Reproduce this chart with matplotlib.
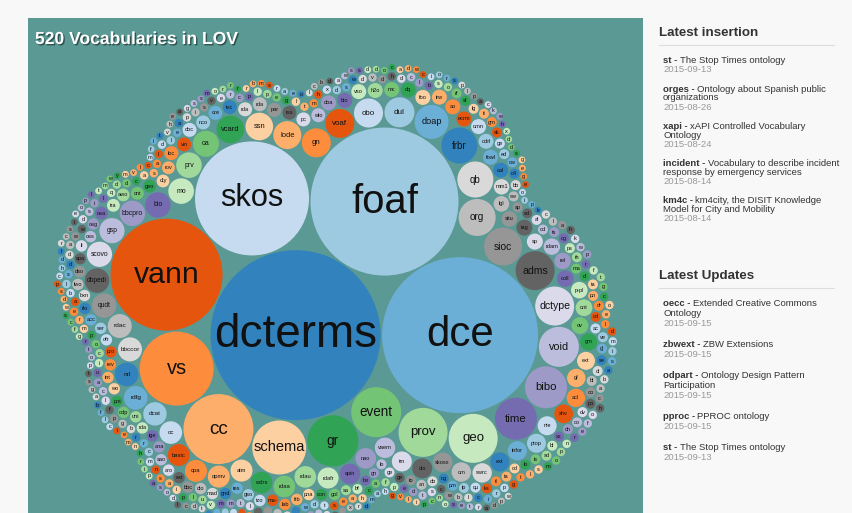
import math
import matplotlib
matplotlib.use("Agg")
import matplotlib.pyplot as plt
from matplotlib.patches import Circle, Rectangle
import matplotlib.patheffects as pe

# ---------------- data ----------------
# largest vocabularies, in descending order, with their bubble radius (px)
top_names = ["dcterms", "dce", "foaf", "skos", "vann", "vs", "cc", "schema", "gr", "event",
             "prov", "geo", "time", "bibo", "void", "dctype", "adms", "sioc", "org", "qb",
             "frbr", "doap", "dul", "obo", "voaf", "gn", "lode", "ssn", "vcard", "oa",
             "prv", "mo", "bio", "bbcpro", "gsp", "scovo", "dbpedi", "qudt", "rdac", "bbccor",
             "nrl", "rdfg", "dcat", "oc", "basic", "cpa", "opmv", "aim", "wdrs", "rdaa",
             "rdau", "rdafr", "spin", "nao", "vaem", "tm", "olo", "skosx", "om", "swrc",
             "ext", "infor", "ptop", "nie", "xhv", "acl", "gf", "ext", "gm", "ov",
             "ont", "p-pl", "coll", "rel", "rdam", "sp", "tag", "situ", "lgl", "mm1"]
top_radius = [85, 78, 74, 57, 56, 37, 35, 27, 25.5, 25,
              24.5, 24.5, 21, 21, 20, 19.5, 19.5, 19, 18.5, 18,
              18, 17, 15, 14.5, 14.5, 14.5, 14, 13.8, 13.8, 13,
              12.8, 12.8, 12.7, 12.7, 12.6, 12.6, 12.3, 12.2, 12, 12,
              11.8, 11.8, 11.7, 11.3, 11, 11, 11, 11, 10.8, 10.8,
              10.8, 10.5, 10.3, 10.3, 10.2, 10, 10, 9.8, 9.7, 9.7,
              9.6, 9.6, 9.5, 9.5, 9.4, 9.2, 9.2, 9, 8.6, 8.4,
              8.4, 8.3, 8.3, 8.2, 8.2, 8, 8, 7.8, 7.8, 7.7]

# the many small ones, grouped by (roughly equal) size, labels as shown
tier_a = "cal fowl odrl omn ecrm ao irw foo dq mc h2o vso bio doa".split()
tier_b = "wlo pc rss par rda rda tvc ore nco doc vin loc".split()
tier_c = "rov dty geo cnt awo tra osa".split()
tier_d = ("osg oss li spa dso lwo bxn rlo acc ser ofr pro rev int wo pnt odp uni rda ige "
          "ana sao aro ext bbc olo mad gnd tes gso tzo ma- lab frb pna con gol").split()
tier_e = ("sa bf be gn lo ge ge to an ob ng pm ip qu ks tl ta cd lo is "
          "sd bl sx ch co dv po oo bl ol se gl ve ac cd dr pn ta di ma "
          "th ps cg ts od al sd sp sw bb c4 cw ed ge sk gm ti lg sf rf").split()
tier_f = list("osblcdhdvdwsdxhmtlgeplpcrevsipaeldlasacddqlisdwwaddslbaermpo"
              "ciuaclfpgbrrcmnsaipluvmmtlfpocdwdtseahcafpedtscwblcirpgtlsmo"
              "pnrefohcabasimdleocgtfrpwkhalc")
tier_g = list("kpioegegsddxhwkcaplpsroicwdacoddsswadbcloearsmbrrrromssgaehv"
              "tlfmclvmywmtlpoeiscrldhcpsdwscfgrtoptsgabflciemnhripasodlcdt"
              "wvnkrmpfailcetsbqoxrdmahgvlipcnosetradpw")
tiers = [tier_a, tier_b, tier_c, tier_d, tier_e, tier_f, tier_g]
tier_radius = [7.5, 7.0, 6.4, 5.7, 5.0, 4.2, 3.4]

palette = ["#3182bd", "#6baed6", "#9ecae1", "#c6dbef", "#e6550d", "#fd8d3c", "#fdae6b", "#fdd0a2",
           "#31a354", "#74c476", "#a1d99b", "#c7e9c0", "#756bb1", "#9e9ac8", "#bcbddc", "#dadaeb",
           "#636363", "#969696", "#bdbdbd", "#d9d9d9"]

insertions = [("st", ["The Stop Times ontology"], "2015-09-13"),
              ("orges", ["Ontology about Spanish public", "organizations"], "2015-08-26"),
              ("xapi", ["xAPI Controlled Vocabulary", "Ontology"], "2015-08-24"),
              ("incident", ["Vocabulary to describe incident", "response by emergency services"], "2015-08-14"),
              ("km4c", ["km4city, the DISIT Knowledge", "Model for City and Mobility"], "2015-08-14")]
updates = [("oecc", ["Extended Creative Commons", "Ontology"], "2015-09-15"),
           ("zbwext", ["ZBW Extensions"], "2015-09-15"),
           ("odpart", ["Ontology Design Pattern", "Participation"], "2015-09-15"),
           ("pproc", ["PPROC ontology"], "2015-09-15"),
           ("st", ["The Stop Times ontology"], "2015-09-13")]

labels = list(top_names)
radius = list(top_radius)
for t, r in zip(tiers, tier_radius):
    labels += t
    radius += [r] * len(t)


# ---------------- d3 v3 style sibling packing ----------------
def pack_siblings(rr):
    n = len(rr)
    x = [0.0] * n
    y = [0.0] * n
    nxt = list(range(n))
    prv = list(range(n))
    box = [math.inf, -math.inf, math.inf, -math.inf]

    def bound(i):
        box[0] = min(box[0], x[i] - rr[i]); box[1] = max(box[1], x[i] + rr[i])
        box[2] = min(box[2], y[i] - rr[i]); box[3] = max(box[3], y[i] + rr[i])

    def place(a, b, c):
        db = rr[a] + rr[c]
        dx = x[b] - x[a]
        dy = y[b] - y[a]
        if db and (dx or dy):
            da = rr[b] + rr[c]
            dc = dx * dx + dy * dy
            da *= da
            db *= db
            xx = 0.5 + (db - da) / (2 * dc)
            yy = math.sqrt(max(0, 2 * da * (db + dc) - (db - dc) ** 2 - da * da)) / (2 * dc)
            x[c] = x[a] + xx * dx + yy * dy
            y[c] = y[a] + xx * dy - yy * dx
        else:
            x[c] = x[a] + db
            y[c] = y[a]

    def insert(a, b):
        c = nxt[a]
        nxt[a] = b; prv[b] = a
        nxt[b] = c; prv[c] = b

    def splice(a, b):
        nxt[a] = b; prv[b] = a

    def hits(a, b):
        dx = x[b] - x[a]; dy = y[b] - y[a]; dr = rr[a] + rr[b]
        return 0.999 * dr * dr > dx * dx + dy * dy

    a = 0
    x[a] = -rr[a]
    bound(a)
    b = 1
    x[b] = rr[b]
    bound(b)
    c = 2
    place(a, b, c)
    bound(c)
    insert(a, c)
    prv[a] = c
    insert(c, b)
    b = nxt[a]
    i = 3
    while i < n:
        c = i
        place(a, b, c)
        isect = False
        s1 = s2 = 1
        j = nxt[b]
        while j != b:
            if hits(j, c):
                isect = True
                break
            j = nxt[j]
            s1 += 1
        if isect:
            k = prv[a]
            while k != prv[j]:
                if hits(k, c):
                    break
                k = prv[k]
                s2 += 1
            if s1 < s2 or (s1 == s2 and rr[b] < rr[a]):
                b = j
                splice(a, b)
            else:
                a = k
                splice(a, b)
        else:
            insert(a, c)
            b = c
            bound(c)
            i += 1
    cx = (box[0] + box[1]) / 2
    cy = (box[2] + box[3]) / 2
    return [v - cx for v in x], [v - cy for v in y]


pad = 0.75
px, py = pack_siblings([r + pad for r in radius])

# ---------------- drawing ----------------
W, H = 852, 513
fig = plt.figure(figsize=(W / 100, H / 100), dpi=100)
fig.patch.set_facecolor("#f8f8f8")
ax = fig.add_axes([0, 0, 1, 1])
ax.set_xlim(0, W)
ax.set_ylim(H, 0)
ax.axis("off")

panel_x, panel_y, panel_w = 28, 18, 615
ax.add_patch(Rectangle((panel_x, panel_y), panel_w, 600, facecolor="#5a9994", edgecolor="none", zorder=0))
# centre of the bubble cloud inside the panel
cx0 = panel_x + panel_w / 2
cy0 = 296

for i, (lab, r) in enumerate(zip(labels, radius)):
    X = cx0 + px[i]
    Y = cy0 + py[i]
    if Y - r > H:
        continue
    ax.add_patch(Circle((X, Y), r, facecolor=palette[i % 20], edgecolor="none", zorder=1))
    fpx = max(0.54 * r, 5.6)
    if Y + fpx * 0.5 > H - 1:
        continue
    ax.text(X, Y, lab, ha="center", va="center", fontsize=fpx * 0.72, color="#111111",
            family="Liberation Sans", zorder=2)

ax.text(35, 44, "520 Vocabularies in LOV", fontsize=12.6, fontweight="bold", color="white",
        family="Liberation Sans", ha="left", va="baseline", zorder=3,
        path_effects=[pe.withSimplePatchShadow(offset=(1, -1), shadow_rgbFace="black", alpha=0.45)])

# ---------------- sidebar ----------------
renderer = fig.canvas.get_renderer()


def section(title, ty, items, y0, step, gap):
    ax.text(659, ty, title, fontsize=9.6, fontweight="bold", color="#333333",
            family="Liberation Sans", ha="left", va="center")
    ax.plot([659, 834], [ty + 12, ty + 12], color="#dddddd", lw=0.8)
    y = y0
    for key, lines, date in items:
        t = ax.text(663, y, key + " -", fontsize=6.8, fontweight="bold", color="#333333",
                    family="Liberation Sans", ha="left", va="center")
        bb = t.get_window_extent(renderer)
        ax.text(bb.x1 + 2.3, y, lines[0], fontsize=6.8, color="#333333",
                family="Liberation Sans", ha="left", va="center")
        for ln in lines[1:]:
            y += step
            ax.text(663, y, ln, fontsize=6.8, color="#333333",
                    family="Liberation Sans", ha="left", va="center")
        y += step
        ax.text(663, y, date, fontsize=6.8, color="#999999",
                family="Liberation Sans", ha="left", va="center")
        y += gap


section("Latest insertion", 33, insertions, 60.7, 9.0, 19.3)
section("Latest Updates", 276, updates, 303.3, 10.0, 21.0)

fig.savefig("out.png", dpi=100, facecolor=fig.get_facecolor())
